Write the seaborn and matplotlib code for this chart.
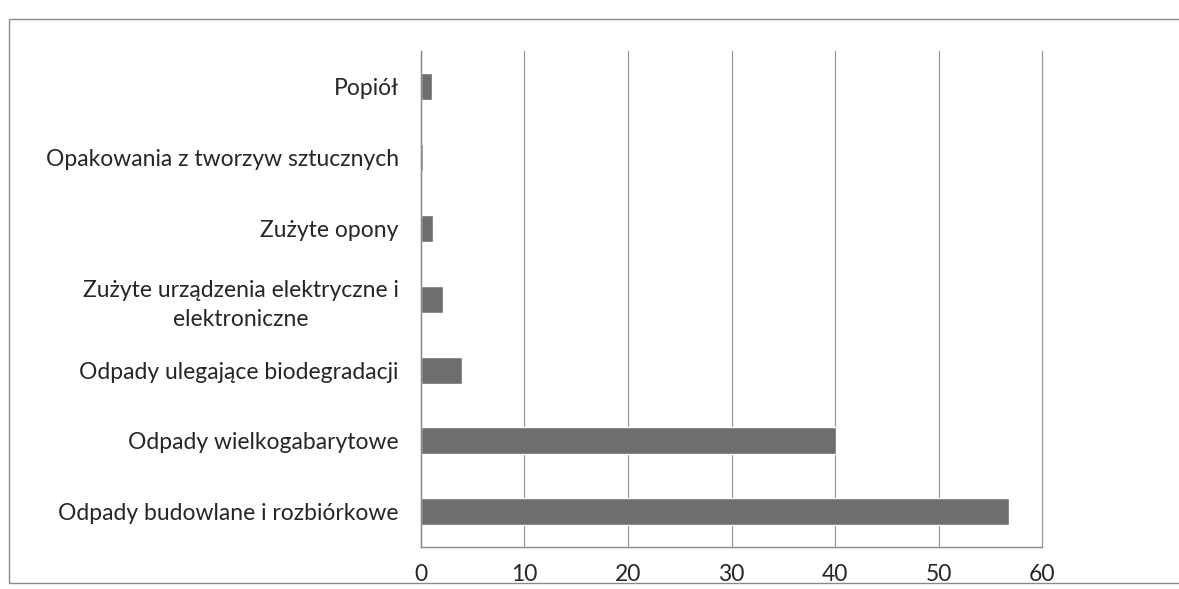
import matplotlib
matplotlib.use('Agg')
import matplotlib.pyplot as plt
import seaborn as sns
import pandas as pd
from matplotlib.patches import Rectangle

# Dane
kategorie = ['Popiół', 'Opakowania z tworzyw sztucznych', 'Zużyte opony',
             'Zużyte urządzenia elektryczne i\nelektroniczne',
             'Odpady ulegające biodegradacji', 'Odpady wielkogabarytowe',
             'Odpady budowlane i rozbiórkowe']
wartosci = [1.1, 0.2, 1.2, 2.1, 4.0, 40.1, 56.8]
xticki = [0, 10, 20, 30, 40, 50, 60]

df = pd.DataFrame({'kategoria': kategorie, 'wartosc': wartosci})

sns.set_style("white")
plt.rcParams['font.family'] = ['Lato', 'DejaVu Sans']

fig = plt.figure(figsize=(11.79, 5.89), dpi=100)
ax = fig.add_axes([0.357, 0.071, 0.527, 0.842])

sns.barplot(data=df, x='wartosc', y='kategoria', orient='h', color='#6e6e6e',
            width=0.38, ax=ax, saturation=1)

ax.set_xlim(0, 60)
ax.set_ylim(6.5, -0.5)
ax.set_xticks(xticki)
ax.set_xticklabels([str(v) for v in xticki], fontsize=16.5)
ax.set_xlabel('')
ax.set_ylabel('')
ax.tick_params(axis='y', length=0, labelsize=16.5, pad=16)
ax.set_yticks([i - 0.5 for i in range(8)], minor=True)
ax.tick_params(axis='y', which='minor', length=5, color='#888888')
ax.tick_params(axis='x', length=6, color='#888888', pad=12, direction='in')
for lbl in ax.get_yticklabels():
    lbl.set_horizontalalignment('right')
    lbl.set_multialignment('center')
    lbl.set_linespacing(1.45)

ax.grid(True, axis='x', color='#9a9a9a', linewidth=0.9)
for gl in ax.get_xgridlines():
    gl.set_clip_on(False)
ax.set_axisbelow(True)
for s in ['top', 'right']:
    ax.spines[s].set_visible(False)
for s in ['left', 'bottom']:
    ax.spines[s].set_color('#8a8a8a')
    ax.spines[s].set_linewidth(1.0)

# ramka wykresu
fig.patches.append(Rectangle((0.008, 0.01), 1.1, 0.958, transform=fig.transFigure,
                             fill=False, edgecolor='#8a8a8a', linewidth=1.0))

plt.savefig('out.png', dpi=100)
